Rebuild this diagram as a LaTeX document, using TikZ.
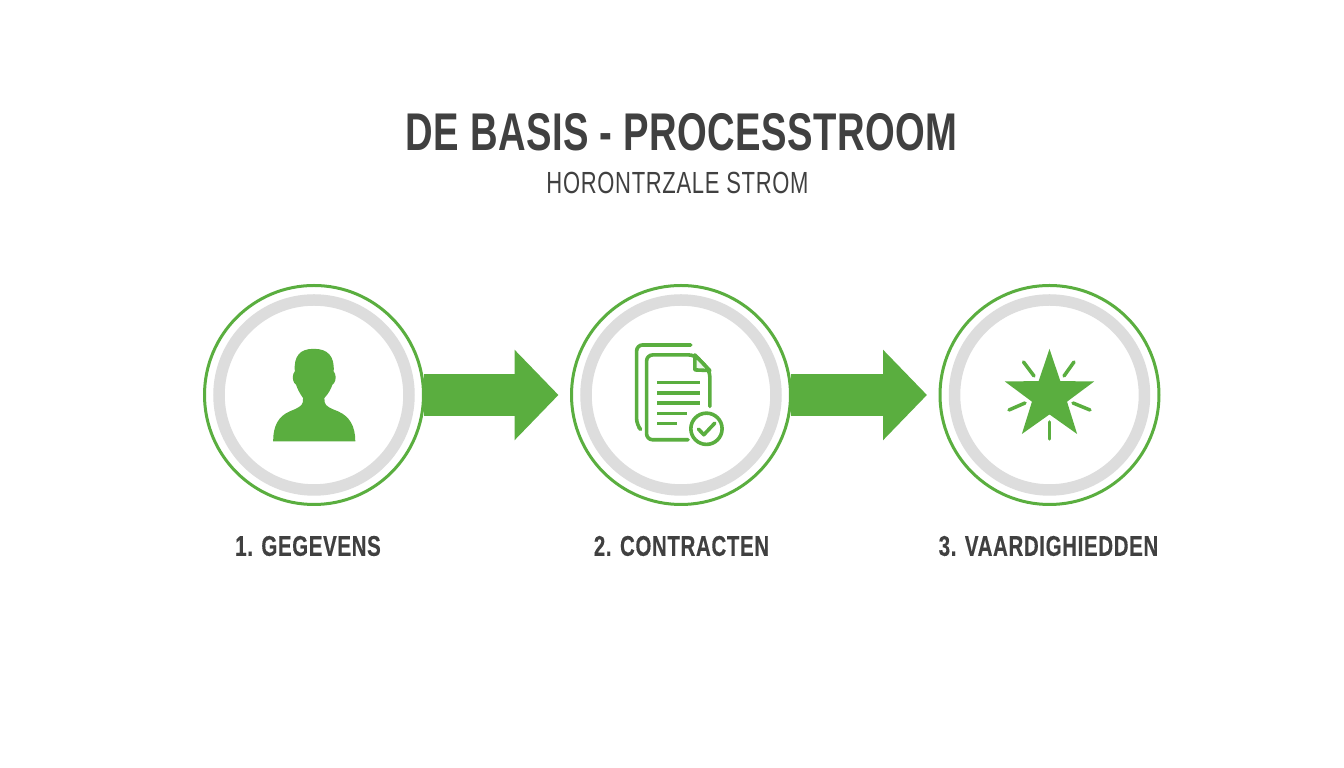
\documentclass[tikz,border=0pt]{standalone}
\usepackage{fontspec}
\setmainfont{Liberation Sans}
\newfontfamily\titlefont[FakeStretch=0.72,LetterSpace=0.8]{Liberation Sans}
\newfontfamily\subfont[FakeStretch=0.72,LetterSpace=2.2]{Liberation Sans}
\newfontfamily\labelfont[FakeStretch=0.72,LetterSpace=2.2,FakeBold=0.3]{Liberation Sans}
\usetikzlibrary{arrows.meta,shapes.geometric}
\definecolor{stepgreen}{HTML}{5AAE3F}
\definecolor{ringgray}{HTML}{DDDDDD}
\definecolor{textgray}{HTML}{404040}
\tikzset{stepcircle/.style = {circle, draw=stepgreen, fill=white, line width=0.03cm, minimum size=2.19cm, inner sep=0pt, outer sep=0pt}}
\tikzset{stepring/.style = {circle, draw=ringgray, line width=0.115cm, minimum size=1.9cm, inner sep=0pt}}
\tikzset{flowarrow/.style = {draw=stepgreen, line width=0.42cm, -{Triangle[length=0.44cm,width=0.88cm]}, shorten >=0.13cm}}
\tikzset{titletext/.style = {text=textgray, inner sep=0pt, font=\titlefont\bfseries\fontsize{15.1}{18}\selectfont}}
\tikzset{subtext/.style = {text=textgray, inner sep=0pt, font=\subfont\fontsize{8.7}{10}\selectfont}}
\tikzset{steplabel/.style = {text=textgray, inner sep=0pt, font=\labelfont\bfseries\fontsize{8.1}{9}\selectfont}}
\tikzset{iconline/.style = {draw=stepgreen, line width=0.036cm, line cap=round, line join=round}}
\begin{document}
\begin{tikzpicture}
	\useasboundingbox (0,0) rectangle (13.44,7.68);
	\node[titletext] (title) at (6.815,6.36) {DE BASIS - PROCESSTROOM};
	\node[subtext] (subtitle) at (6.775,5.85) {HORONTRZALE STROM};
	\node[stepcircle] (step1) at (3.14,3.73) {};
	\node[stepring] (ring1) at (step1) {};
	\node[stepcircle] (step2) at (6.81,3.73) {};
	\node[stepring] (ring2) at (step2) {};
	\node[stepcircle] (step3) at (10.495,3.73) {};
	\node[stepring] (ring3) at (step3) {};
	\draw[flowarrow] (step1) -- (step2);
	\draw[flowarrow] (step2) -- (step3);
	\node[steplabel] (label1) at (3.08,2.22) {1. GEGEVENS};
	\node[steplabel] (label2) at (6.815,2.22) {2. CONTRACTEN};
	\node[steplabel] (label3) at (10.485,2.22) {3. VAARDIGHIEDDEN};
	\begin{scope}[shift={(1.9,4.98)},x=0.003333cm,y=-0.003333cm]
		\fill[stepgreen] (250,515) -- (497,515) .. controls (497,470) and (480,440) .. (445,425)
			.. controls (425,417) and (407,410) .. (405,398) -- (404,385)
			.. controls (418,370) and (425,355) .. (428,345) .. controls (436,340) and (441,325) .. (436,312)
			-- (432,305) .. controls (435,260) and (415,237) .. (372,237)
			.. controls (329,237) and (312,260) .. (315,305) -- (311,312)
			.. controls (306,325) and (311,340) .. (319,345) .. controls (322,355) and (329,370) .. (340,385)
			-- (339,398) .. controls (337,410) and (320,417) .. (300,425)
			.. controls (265,440) and (250,470) .. (250,515) -- cycle;
	\end{scope}
	\begin{scope}[shift={(6.2,4.38)},x=0.003333cm,y=-0.003333cm]
		\draw[iconline,rounded corners=0.06cm] (56,292) -- (50,285) -- (50,45) -- (213,45);
		\draw[iconline,rounded corners=0.06cm] (270,230) -- (270,122) -- (225,75) -- (80,75) -- (80,330) -- (205,330);
		\draw[iconline,fill=stepgreen!10!white] (225,75) -- (225,120) -- (270,122) -- cycle;
		\draw[iconline,line cap=butt] (112,158) -- (242,158);
		\draw[iconline,line cap=butt] (112,189) -- (242,189);
		\draw[iconline,line cap=butt] (112,220) -- (242,220);
		\draw[iconline,line cap=butt] (112,251) -- (200,251);
		\draw[iconline,line cap=butt] (112,281) -- (172,281);
		\draw[iconline,fill=white] (260,297) circle (47);
		\draw[iconline] (236,298) -- (252,315) -- (285,280);
	\end{scope}
	\node[star, star points=5, star point ratio=2.55, minimum size=0.94cm, inner sep=0pt, fill=stepgreen] (star) at (10.495,3.72) {};
	\draw[iconline,line width=0.035cm] (10.235,4.06) -- (10.34,3.92);
	\draw[iconline,line width=0.035cm] (10.74,4.06) -- (10.64,3.92);
	\draw[iconline,line width=0.035cm] (10.09,3.58) -- (10.25,3.65);
	\draw[iconline,line width=0.035cm] (10.90,3.58) -- (10.73,3.65);
	\draw[iconline,line width=0.035cm] (10.495,3.46) -- (10.495,3.29);
\end{tikzpicture}
\end{document}
